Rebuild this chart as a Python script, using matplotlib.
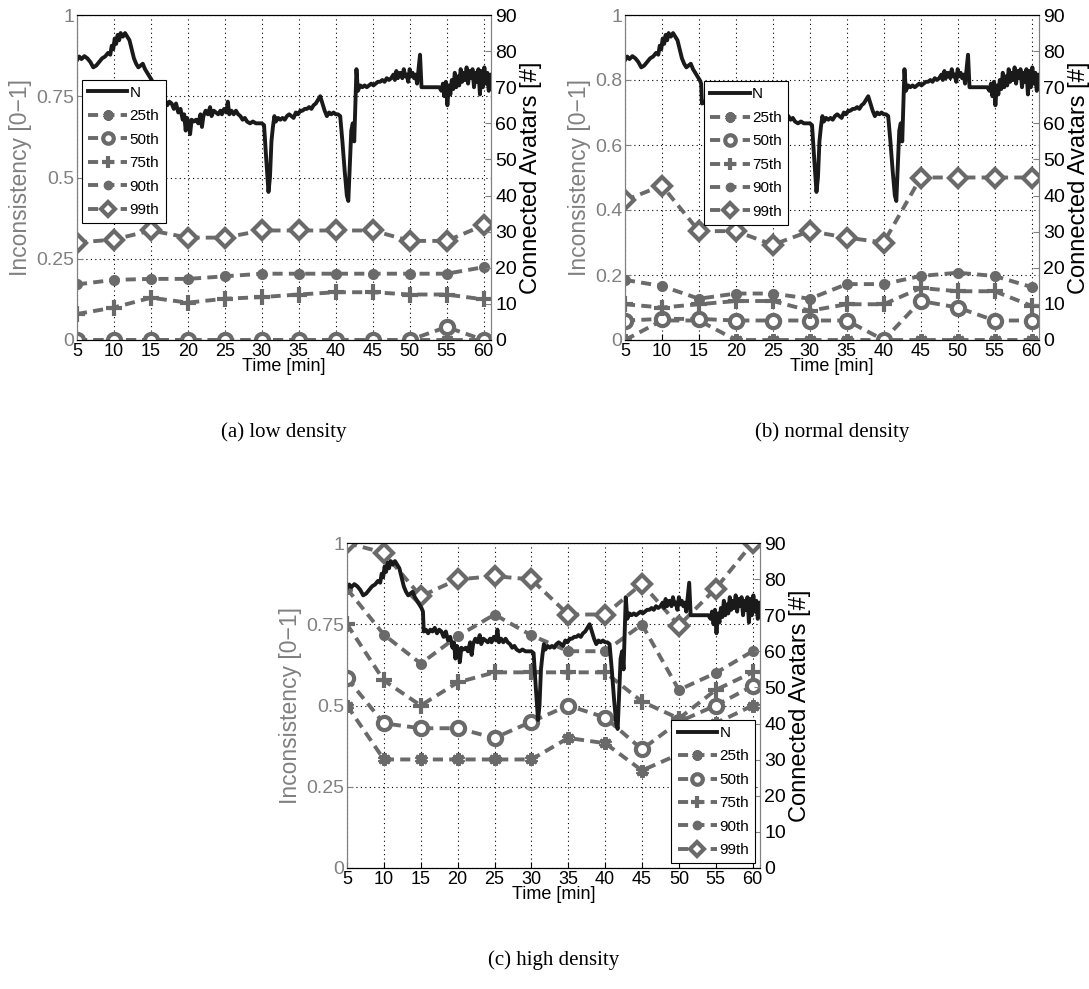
import numpy as np
import matplotlib
matplotlib.use("Agg")
import matplotlib.pyplot as plt

plt.rcParams['font.family'] = ['Liberation Sans', 'DejaVu Sans']

W, H = 1089, 989

# x positions of the percentile samples [min]
minutes = [5, 10, 15, 20, 25, 30, 35, 40, 45, 50, 55, 60]

# inconsistency percentiles, low density
low_p25 = [0, 0, 0, 0, 0, 0, 0, 0, 0, 0, 0, 0]
low_p50 = [0, 0, 0, 0, 0, 0, 0, 0, 0, 0, 0.04, 0]
low_p75 = [0.08, 0.10, 0.13, 0.115, 0.127, 0.132, 0.14, 0.147, 0.147, 0.14, 0.14, 0.125]
low_p90 = [0.171, 0.185, 0.188, 0.188, 0.196, 0.204, 0.204, 0.204, 0.204, 0.204, 0.204, 0.224]
low_p99 = [0.30, 0.309, 0.337, 0.315, 0.315, 0.337, 0.337, 0.337, 0.337, 0.305, 0.305, 0.353]

# normal density
norm_p25 = [0, 0.06, 0.06, 0, 0, 0, 0, 0, 0, 0, 0, 0]
norm_p50 = [0.06, 0.065, 0.065, 0.06, 0.06, 0.06, 0.06, 0.0, 0.12, 0.10, 0.06, 0.06]
norm_p75 = [0.11, 0.10, 0.11, 0.12, 0.12, 0.09, 0.11, 0.11, 0.16, 0.15, 0.15, 0.105]
norm_p90 = [0.185, 0.166, 0.127, 0.143, 0.143, 0.127, 0.172, 0.172, 0.197, 0.207, 0.197, 0.163]
norm_p99 = [0.43, 0.475, 0.335, 0.335, 0.293, 0.335, 0.315, 0.30, 0.5, 0.5, 0.5, 0.5]

# high density
high_p25 = [0.5, 0.334, 0.334, 0.334, 0.334, 0.334, 0.4, 0.384, 0.30, 0.35, 0.445, 0.5]
high_p50 = [0.584, 0.445, 0.43, 0.43, 0.40, 0.45, 0.5, 0.463, 0.365, 0.45, 0.5, 0.56]
high_p75 = [0.75, 0.577, 0.5, 0.571, 0.602, 0.602, 0.602, 0.602, 0.512, 0.46, 0.548, 0.602]
high_p90 = [0.859, 0.718, 0.629, 0.713, 0.78, 0.716, 0.667, 0.667, 0.749, 0.548, 0.60, 0.667]
high_p99 = [1.0, 0.97, 0.836, 0.888, 0.898, 0.888, 0.78, 0.78, 0.875, 0.746, 0.86, 1.0]

# connected avatars (same trace in every panel)
n_time = [5.0, 5.3, 5.6, 6.0, 6.4, 6.8, 7.2, 7.6, 8.0, 8.4, 8.8, 9.2, 9.5, 9.7, 9.9,
          10.1, 10.3, 10.5, 10.7, 10.9, 11.2, 11.5, 11.8, 12.1, 12.4, 12.7, 13.0, 13.3,
          13.6, 13.9, 14.2, 14.5, 14.8, 15.1, 15.3, 15.4, 15.7, 16.0, 16.3, 16.6, 16.9,
          17.2, 17.5, 17.8, 18.1, 18.4, 18.7, 19.0, 19.3, 19.5, 19.7, 19.9, 20.1, 20.3,
          20.5, 20.8, 21.1, 21.4, 21.7, 21.9, 22.1, 22.4, 22.7, 23.0, 23.2, 23.5, 23.8,
          24.1, 24.4, 24.6, 24.9, 25.2, 25.4, 25.6, 25.9, 26.2, 26.5, 26.8, 27.1, 27.4,
          27.7, 28.0, 28.4, 28.8, 29.2, 29.6, 30.0, 30.3, 30.6, 30.9, 31.1, 31.3, 31.5,
          31.7, 31.9, 32.2, 32.5, 32.8, 33.1, 33.4, 33.7, 34.0, 34.3, 34.6, 34.9, 35.2,
          35.5, 35.8, 36.1, 36.4, 36.7, 37.0, 37.3, 37.6, 37.9, 38.2, 38.5, 38.8, 39.1,
          39.4, 39.7, 40.0, 40.3, 40.6, 40.9, 41.2, 41.5, 41.7, 41.9, 42.1, 42.3, 42.5,
          42.6, 42.8, 43.0, 43.3, 43.6, 43.9, 44.2, 44.5, 44.8, 45.1, 45.4, 45.7, 46.0,
          46.3, 46.6, 46.9, 47.2, 47.5, 47.8, 48.0, 48.2, 48.4, 48.7, 49.0, 49.2, 49.4,
          49.6, 49.8, 50.0, 50.2, 50.4, 50.6, 50.8, 51.0, 51.2, 51.4, 51.6, 51.9, 52.5,
          53.0, 53.5, 54.0, 54.3, 54.5, 54.7, 54.9, 55.1, 55.3, 55.5, 55.7, 55.9, 56.1,
          56.3, 56.5, 56.7, 56.9, 57.1, 57.3, 57.5, 57.7, 57.9, 58.1, 58.3, 58.5, 58.7,
          58.9, 59.1, 59.3, 59.5, 59.7, 59.9, 60.1, 60.3, 60.5, 60.7, 60.9, 61.0]
n_avatars = [77.5, 78.5, 77.8, 78.6, 78.0, 77.0, 75.5, 76.0, 77.0, 78.0, 78.5, 79.5, 79.0, 81.5, 80.5,
             83.5, 82.0, 84.5, 83.0, 85.0, 84.0, 85.0, 84.0, 83.0, 80.5, 78.0, 76.5, 75.5,
             76.0, 76.5, 75.0, 74.0, 73.0, 72.0, 71.0, 65.5, 66.0, 65.0, 66.0, 65.5, 66.5,
             65.0, 66.0, 65.5, 64.0, 65.5, 63.0, 64.0, 61.0, 62.5, 58.0, 61.5, 60.0, 57.0,
             61.0, 60.5, 61.0, 60.0, 62.5, 59.0, 62.0, 63.5, 62.5, 64.5, 62.0, 63.5, 63.0,
             62.5, 63.5, 62.5, 64.0, 63.0, 66.0, 62.5, 63.5, 62.5, 63.5, 62.5, 62.0, 61.0,
             61.5, 60.5, 60.0, 60.5, 60.0, 60.0, 60.0, 59.5, 50.0, 41.0, 45.0, 55.0, 59.0,
             62.0, 60.5, 61.5, 61.0, 61.5, 61.0, 62.0, 62.5, 62.0, 61.5, 63.0, 62.5, 63.5,
             63.5, 64.0, 64.0, 64.5, 64.0, 65.0, 65.5, 66.5, 67.5, 65.5, 63.5, 62.0, 63.0,
             62.5, 63.0, 62.5, 62.5, 62.0, 55.0, 47.0, 40.0, 38.5, 48.0, 58.0, 60.0, 55.0,
             62.0, 75.0, 69.0, 70.5, 70.0, 70.5, 70.0, 70.5, 71.0, 70.5, 71.0, 71.5, 71.5,
             72.0, 71.5, 72.5, 72.0, 72.5, 73.5, 72.0, 74.5, 72.5, 74.0, 72.5, 75.0, 73.0,
             73.5, 71.5, 75.0, 73.0, 74.0, 72.5, 73.5, 71.0, 75.0, 79.0, 70.0, 70.0, 70.0,
             70.0, 70.0, 70.0, 69.0, 71.0, 67.5, 71.5, 65.0, 70.5, 68.0, 72.0, 69.5, 74.0,
             70.0, 73.0, 70.5, 75.0, 71.5, 74.0, 72.0, 75.5, 71.0, 74.5, 72.5, 75.0, 70.0,
             74.0, 71.5, 75.0, 68.0, 74.5, 70.0, 75.5, 71.0, 74.0, 69.0, 73.5, 71.0]

labels = ['25th', '50th', '75th', '90th', '99th']
markers = [(6, 2, 0), 'o', '+', 'o', 'D']
msizes = [9, 9.5, 11, 5, 9]
mfaces = ['#6a6a6a', 'white', '#6a6a6a', '#6a6a6a', 'white']

gray = '#6a6a6a'
axgray = '#808080'


def draw_panel(rect, series, yticks, yticklabels, legend_kw, caption):
    ax = fig.add_axes(rect)
    ax2 = ax.twinx()
    handles = []
    for vals, lab, mk, ms, mf in zip(series, labels, markers, msizes, mfaces):
        h, = ax.plot(minutes, vals, linestyle='--', dashes=(2.6, 1.6), color=gray,
                     linewidth=2.8, marker=mk, markersize=ms, markerfacecolor=mf,
                     markeredgecolor=gray, markeredgewidth=3.0, label=lab, zorder=3)
        handles.append(h)
    hn, = ax2.plot(n_time, n_avatars, color='#1a1a1a', linewidth=2.8, label='N')

    ax.set_xlim(5, 61)
    ax.set_ylim(0, 1)
    ax2.set_ylim(0, 90)
    ax.set_xticks(minutes)
    ax.set_xticklabels([str(m) for m in minutes], fontsize=13)
    ax.set_yticks(yticks)
    ax.set_yticklabels(yticklabels, fontsize=14, color=axgray)
    ax2.set_yticks(range(0, 91, 10))
    ax2.set_yticklabels([str(v) for v in range(0, 91, 10)], fontsize=14)
    ax.tick_params(axis='both', direction='in', length=4, colors=axgray, pad=2)
    ax.tick_params(axis='x', colors='black', labelcolor='black')
    ax2.tick_params(axis='y', direction='in', length=4, color=axgray, labelcolor='black', pad=3)
    ax.grid(True, linestyle=(0, (1, 3)), color='black', linewidth=0.8)
    ax.set_axisbelow(True)

    for a in (ax, ax2):
        a.spines['left'].set_color(axgray)
        a.spines['right'].set_color(axgray)
        a.spines['top'].set_color('black')
        a.spines['bottom'].set_color('black')

    ax.set_ylabel('Inconsistency [0\u22121]', fontsize=16.5, color=axgray, labelpad=3)
    ax2.set_ylabel('Connected Avatars [#]', fontsize=17, labelpad=2)
    ax.set_xlabel('Time [min]', fontsize=13, labelpad=-1)

    leg = ax2.legend([hn] + handles, ['N'] + labels, fontsize=11, frameon=True,
                     fancybox=False, framealpha=1, edgecolor='black',
                     handlelength=2.6, handletextpad=0.15, labelspacing=0.62,
                     borderpad=0.4, borderaxespad=0.3, markerscale=0.8, **legend_kw)
    leg.get_frame().set_linewidth(0.8)

    cx = rect[0] + rect[2] / 2
    fig.text(cx, rect[1] - 92 / H, caption, ha='center', va='center', fontsize=15,
             family=['Liberation Serif', 'DejaVu Serif'])


fig = plt.figure(figsize=(W / 100, H / 100), dpi=100)

q_ticks = [0, 0.25, 0.5, 0.75, 1]
q_labels = ['0', '0.25', '0.5', '0.75', '1']
f_ticks = [0, 0.2, 0.4, 0.6, 0.8, 1]
f_labels = ['0', '0.2', '0.4', '0.6', '0.8', '1']

draw_panel([77 / W, 1 - 340 / H, 414 / W, 325 / H],
           [low_p25, low_p50, low_p75, low_p90, low_p99], q_ticks, q_labels,
           dict(loc='upper left', bbox_to_anchor=(0.0, 0.815)), '(a) low density')
draw_panel([625 / W, 1 - 340 / H, 414 / W, 325 / H],
           [norm_p25, norm_p50, norm_p75, norm_p90, norm_p99], f_ticks, f_labels,
           dict(loc='upper left', bbox_to_anchor=(0.18, 0.81)), '(b) normal density')
draw_panel([347 / W, 1 - 868 / H, 413 / W, 325 / H],
           [high_p25, high_p50, high_p75, high_p90, high_p99], q_ticks, q_labels,
           dict(loc='lower right'), '(c) high density')

fig.savefig('out.png', dpi=100)
